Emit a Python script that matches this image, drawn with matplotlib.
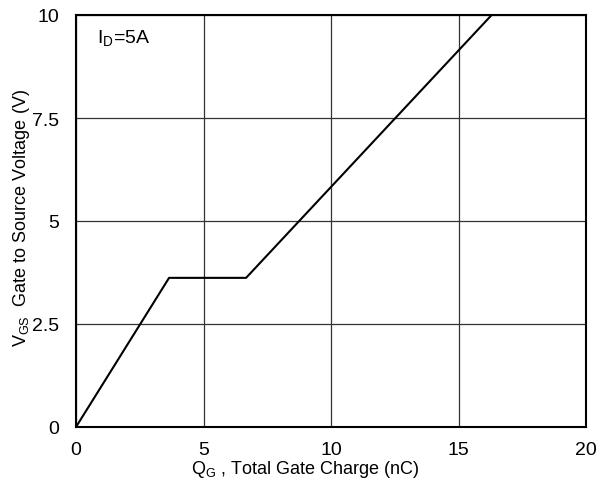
import matplotlib
matplotlib.use("Agg")
import matplotlib.pyplot as plt

qg = [0, 3.65, 6.67, 16.3]
vgs = [0, 3.62, 3.62, 10]
xticks = [0, 5, 10, 15, 20]
yticks = [0, 2.5, 5, 7.5, 10]
ytick_labels = ["0", "2.5", "5", "7.5", "10"]

plt.rcParams['font.family'] = ['Liberation Sans', 'DejaVu Sans']
plt.rcParams['mathtext.fontset'] = 'custom'
plt.rcParams['mathtext.rm'] = 'Liberation Sans'

fig = plt.figure(figsize=(6.11, 4.85), dpi=100)
ax = fig.add_axes([76/611, 1-428/485, 510/611, 412/485])
ax.plot(qg, vgs, color='black', lw=1.5)
ax.set_xlim(0, 20)
ax.set_ylim(0, 10)
ax.set_xticks(xticks)
ax.set_yticks(yticks)
ax.set_yticklabels(ytick_labels)
ax.tick_params(length=0, labelsize=14, colors='black')
ax.tick_params(axis='x', pad=10)
ax.tick_params(axis='y', pad=12)
ax.grid(True, color='#333333', lw=0.9)
for s in ax.spines.values():
    s.set_linewidth(1.5)
ax.set_xlabel(r'Q$_\mathrm{G}$ , Total Gate Charge (nC)', fontsize=13)
ax.xaxis.set_label_coords((305 - 76) / 510, (428 - 470) / 412)
ax.xaxis.label.set_va('center')
ax.set_ylabel(r'V$_\mathrm{GS}$  Gate to Source Voltage (V)', fontsize=13)
ax.yaxis.set_label_coords((32 - 76) / 510, 0.51)
ax.text(21 / 510, 0.944, r'I$_\mathrm{D}$=5A', transform=ax.transAxes, fontsize=14, va='center')
fig.savefig('out.png', dpi=100)
